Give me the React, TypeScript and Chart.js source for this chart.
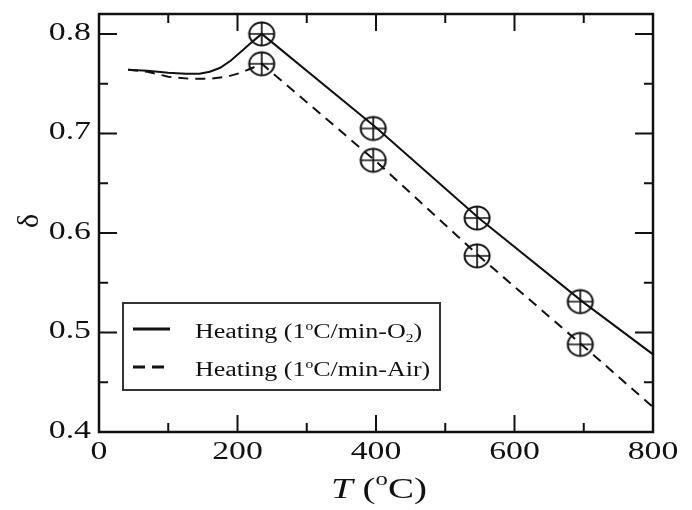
import React, { useEffect, useRef } from "react";
import { Chart, registerables } from "chart.js";
Chart.register(...registerables);

// ---- data ----
const o2T = [42, 70, 100, 125, 145, 160, 175, 190, 205, 218, 228, 235, 400, 550, 700, 800];
const o2D = [0.764, 0.763, 0.761, 0.760, 0.760, 0.762, 0.766, 0.773, 0.782, 0.790, 0.796, 0.8, 0.706, 0.614, 0.53, 0.478];
const airT = [42, 70, 100, 130, 160, 185, 205, 222, 235, 400, 550, 700, 800];
const airD = [0.764, 0.762, 0.757, 0.755, 0.755, 0.757, 0.761, 0.766, 0.77, 0.672, 0.576, 0.486, 0.425];
const markT = [235, 396, 546, 695];
const o2MarkD = [0.8, 0.705, 0.615, 0.531];
const airMarkD = [0.77, 0.673, 0.577, 0.488];
const xMajor = [0, 200, 400, 600, 800];
const xMinor = [100, 300, 500, 700];
const xLabels = ["0", "200", "400", "600", "800"];
const yMajor = [0.4, 0.5, 0.6, 0.7, 0.8];
const yMinor = [0.45, 0.55, 0.65, 0.75];
const yLabels = ["0.4", "0.5", "0.6", "0.7", "0.8"];
const legendO2 = [["Heating (1", ""], ["o", "sup"], ["C/min-O", ""], ["2", "sub"], [")", ""]];
const legendAir = [["Heating (1", ""], ["o", "sup"], ["C/min-Air)", ""]];

const SX = 1.3;
const FONT = "'Times New Roman', 'Liberation Serif', Times, serif";
const INK = "#111";

function rich(ctx: CanvasRenderingContext2D, parts: string[][], x: number, y: number, size: number, align: "left" | "center", italicFirst = false) {
  const fonts = parts.map(([_, k], i) => {
    const s = k ? Math.round(size * 0.62) : size;
    const it = italicFirst && i === 0 ? "italic " : "";
    return `${it}${s}px ${FONT}`;
  });
  let total = 0;
  const widths = parts.map(([t], i) => {
    ctx.font = fonts[i];
    const w = ctx.measureText(t).width * SX;
    total += w;
    return w;
  });
  let cx = align === "center" ? x - total / 2 : x;
  parts.forEach(([t, k], i) => {
    let dy = 0;
    if (k === "sup") dy = -size * 0.42;
    if (k === "sub") dy = size * 0.2;
    ctx.save();
    ctx.translate(cx, y + dy);
    ctx.scale(SX, 1);
    ctx.font = fonts[i];
    ctx.fillStyle = INK;
    ctx.textAlign = "left";
    ctx.textBaseline = "alphabetic";
    ctx.fillText(t, 0, 0);
    ctx.restore();
    cx += widths[i];
  });
}

function stretchedText(ctx: CanvasRenderingContext2D, t: string, x: number, y: number, size: number, align: CanvasTextAlign, base: CanvasTextBaseline) {
  ctx.save();
  ctx.translate(x, y);
  ctx.scale(SX, 1);
  ctx.font = `${size}px ${FONT}`;
  ctx.fillStyle = INK;
  ctx.textAlign = align;
  ctx.textBaseline = base;
  ctx.fillText(t, 0, 0);
  ctx.restore();
}

const decorPlugin = {
  id: "decor",
  afterDraw(chart: any) {
    const ctx: CanvasRenderingContext2D = chart.ctx;
    const { left, right, top, bottom } = chart.chartArea;
    const xs = chart.scales.x;
    const ys = chart.scales.y;
    ctx.save();
    ctx.strokeStyle = INK;
    // frame
    ctx.lineWidth = 2.5;
    ctx.strokeRect(left, top, right - left, bottom - top);
    // ticks
    ctx.lineWidth = 2;
    ctx.beginPath();
    const xt = (v: number, len: number) => {
      const p = xs.getPixelForValue(v);
      ctx.moveTo(p, bottom); ctx.lineTo(p, bottom - len);
      ctx.moveTo(p, top); ctx.lineTo(p, top + len);
    };
    const yt = (v: number, len: number) => {
      const p = ys.getPixelForValue(v);
      ctx.moveTo(left, p); ctx.lineTo(left + len, p);
      ctx.moveTo(right, p); ctx.lineTo(right - len, p);
    };
    xMajor.forEach((v) => xt(v, 17));
    xMinor.forEach((v) => xt(v, 9));
    yMajor.forEach((v) => yt(v, 18));
    yMinor.forEach((v) => yt(v, 9));
    ctx.stroke();
    // tick labels
    xMajor.forEach((v, i) => stretchedText(ctx, xLabels[i], xs.getPixelForValue(v), 459, 26, "center", "alphabetic"));
    yMajor.forEach((v, i) => stretchedText(ctx, yLabels[i], left - 8, ys.getPixelForValue(v) - 1, 26, "right", "middle"));
    // x title
    rich(ctx, [["T", ""], [" (", ""], ["o", "sup"], ["C)", ""]], 379, 498, 30, "center", true);
    // y title (rotated delta)
    ctx.save();
    ctx.translate(30, 221);
    ctx.rotate(-Math.PI / 2);
    ctx.font = `30px ${FONT}`;
    ctx.fillStyle = INK;
    ctx.textAlign = "center";
    ctx.textBaseline = "middle";
    ctx.fillText("δ", 0, 0);
    ctx.restore();
    // legend
    ctx.fillStyle = "#fff";
    ctx.fillRect(123, 303, 317, 87);
    ctx.lineWidth = 2;
    ctx.strokeStyle = "#333";
    ctx.strokeRect(123, 303, 317, 87);
    ctx.strokeStyle = INK;
    ctx.lineWidth = 3;
    ctx.beginPath();
    ctx.moveTo(133, 329); ctx.lineTo(170, 329);
    ctx.stroke();
    ctx.setLineDash([12, 7]);
    ctx.beginPath();
    ctx.moveTo(133, 367); ctx.lineTo(170, 367);
    ctx.stroke();
    ctx.setLineDash([]);
    rich(ctx, legendO2, 195, 338, 20, "left");
    rich(ctx, legendAir, 195, 376, 20, "left");
    ctx.restore();
  },
};

function makeMarker(): HTMLCanvasElement {
  const c = document.createElement("canvas");
  c.width = 30; c.height = 28;
  const g = c.getContext("2d")!;
  g.strokeStyle = INK;
  g.lineWidth = 2;
  g.beginPath();
  g.ellipse(15, 14, 12.5, 11.5, 0, 0, Math.PI * 2);
  g.stroke();
  g.lineWidth = 1.7;
  g.beginPath();
  g.moveTo(15, 2.5); g.lineTo(15, 25.5);
  g.moveTo(2.5, 14); g.lineTo(27.5, 14);
  g.stroke();
  return c;
}

export default function App() {
  const ref = useRef<HTMLCanvasElement>(null);
  useEffect(() => {
    document.body.style.margin = "0";
    const marker = makeMarker();
    const pts = (xs: number[], ys: number[]) => xs.map((x, i) => ({ x, y: ys[i] }));
    const chart = new Chart(ref.current!, {
      type: "line",
      data: {
        datasets: [
          { data: pts(o2T, o2D), borderColor: INK, borderWidth: 2, pointRadius: 0, tension: 0, fill: false },
          { data: pts(airT, airD), borderColor: INK, borderWidth: 2, borderDash: [10, 7], pointRadius: 0, tension: 0, fill: false },
          { data: pts(markT, o2MarkD), showLine: false, pointStyle: marker as any, pointRadius: 13 },
          { data: pts(markT, airMarkD), showLine: false, pointStyle: marker as any, pointRadius: 13 },
        ],
      },
      options: {
        responsive: false,
        animation: false,
        layout: { padding: { left: 99, right: 39, top: 10, bottom: 78 } },
        plugins: { legend: { display: false }, tooltip: { enabled: false } },
        events: [],
        scales: {
          x: { type: "linear", min: 0, max: 800, display: false },
          y: { type: "linear", min: 0.4, max: 0.82, display: false },
        },
      },
      plugins: [decorPlugin],
    });
    return () => chart.destroy();
  }, []);
  return <canvas ref={ref} width={692} height={510} style={{ display: "block" }} />;
}
